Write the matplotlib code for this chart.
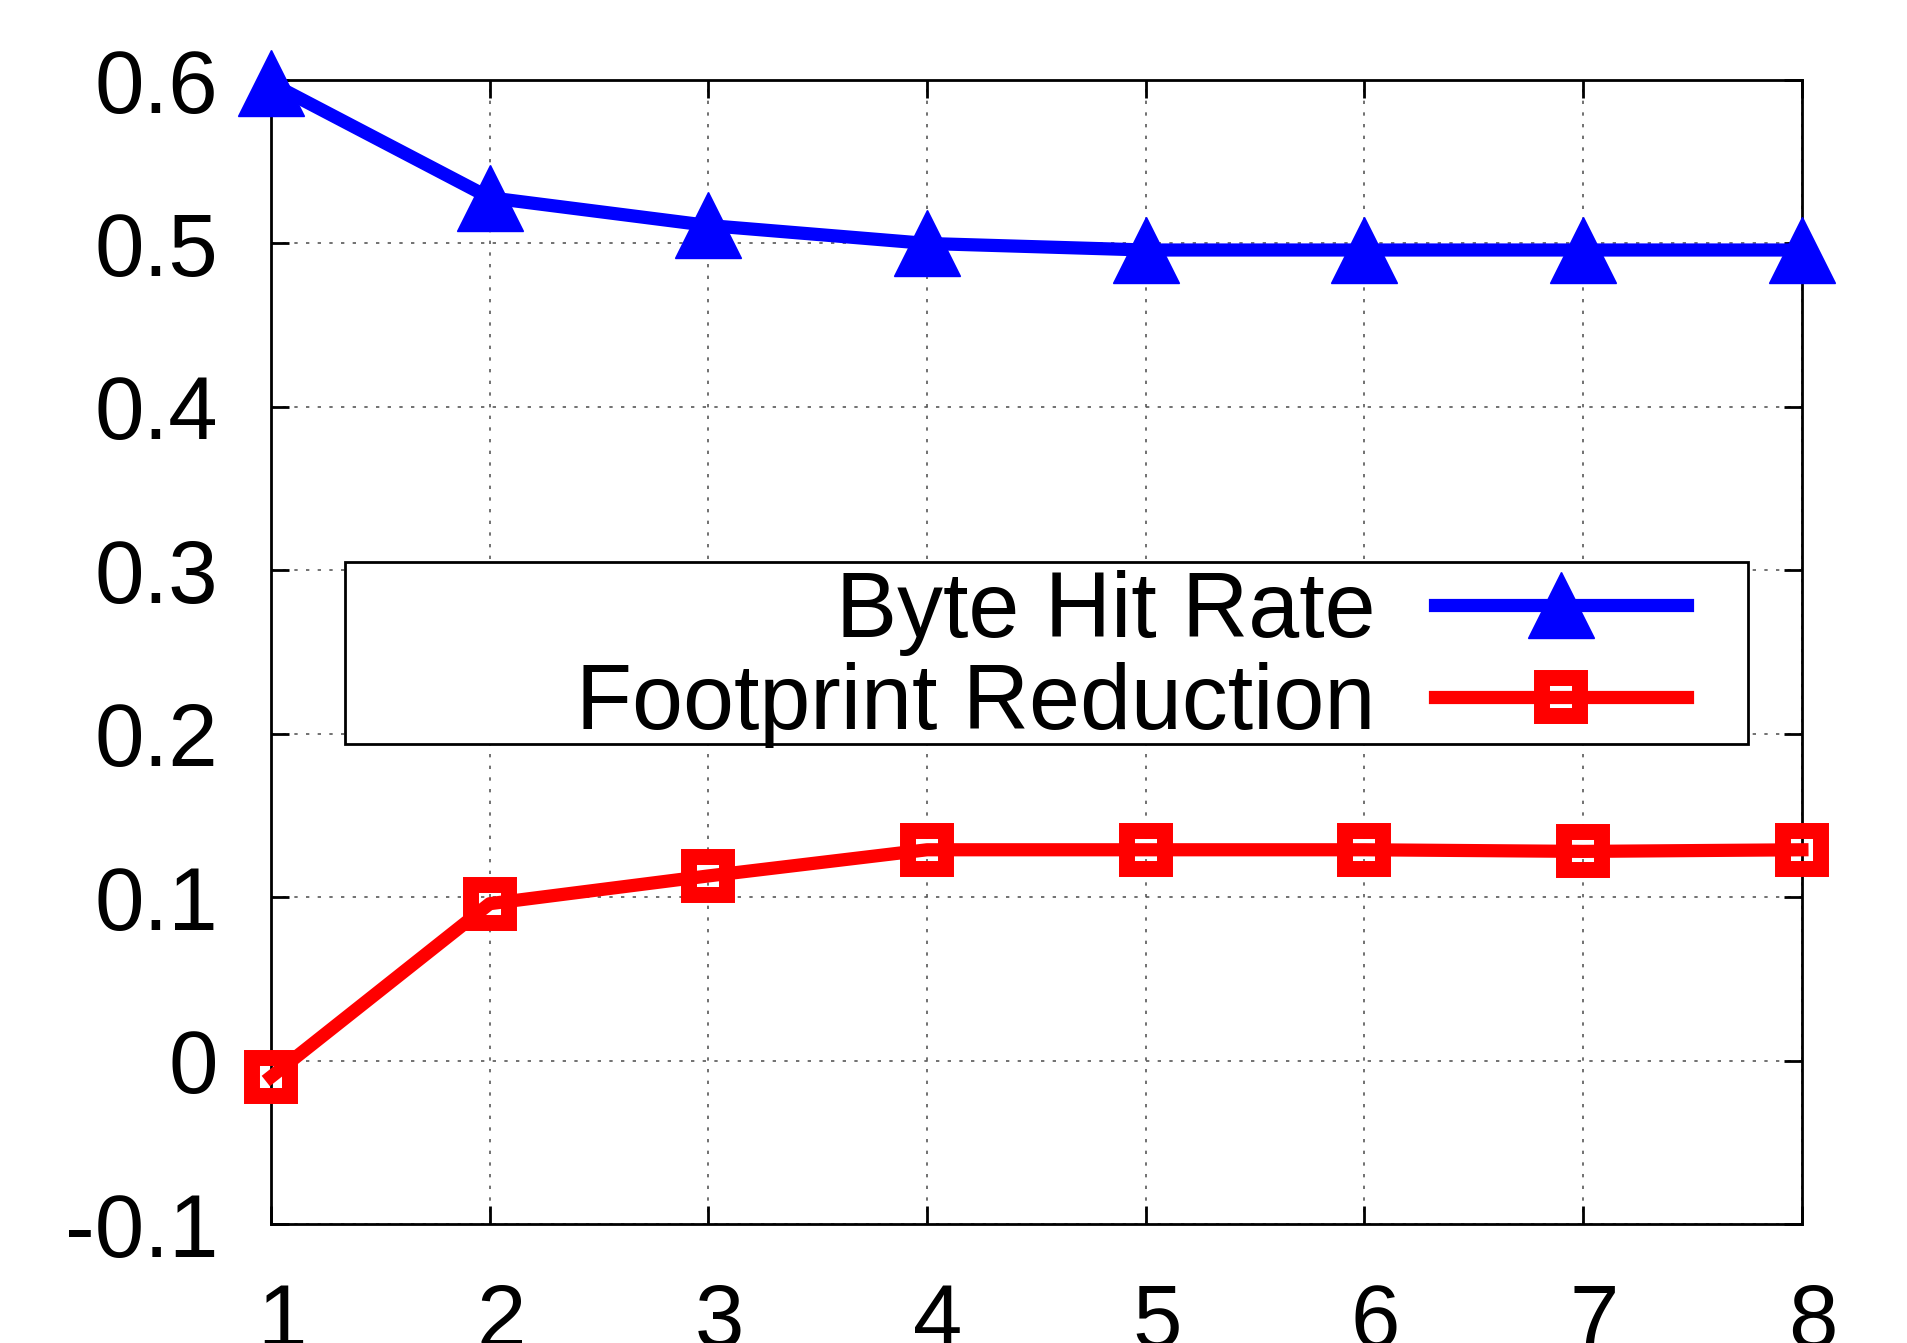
import numpy as np
import matplotlib
matplotlib.use("Agg")
import matplotlib.pyplot as plt
import matplotlib.transforms as mtransforms
from matplotlib.patches import Rectangle

plt.rcParams['font.family'] = ['Liberation Sans', 'DejaVu Sans']

# data
x = [1, 2, 3, 4, 5, 6, 7, 8]
byte_hit_rate = [0.598, 0.528, 0.511, 0.500, 0.496, 0.496, 0.496, 0.496]
footprint_reduction = [-0.010, 0.096, 0.113, 0.129, 0.129, 0.129, 0.128, 0.129]
yticks = [-0.1, 0, 0.1, 0.2, 0.3, 0.4, 0.5, 0.6]
ytick_labels = ["-0.1", "0", "0.1", "0.2", "0.3", "0.4", "0.5", "0.6"]

fig = plt.figure(figsize=(19.08, 13.43), dpi=100)
ax = fig.add_axes([0.142, 0.0886, 0.8024, 0.8518])

ax.plot(x, byte_hit_rate, color='#0000ff', lw=9.5, marker='^', ms=48,
        label='Byte Hit Rate', clip_on=False, zorder=4)
ax.plot(x, footprint_reduction, color='#ff0000', lw=9.5, marker='s', ms=27,
        mfc='none', mec='#ff0000', mew=11.5, label='Footprint Reduction',
        clip_on=False, zorder=4)

ax.set_xlim(1, 8)
ax.set_ylim(-0.1, 0.6)
ax.set_xticks(x)
ax.set_yticks(yticks)
ax.set_yticklabels(ytick_labels)

ax.grid(True, color='0.35', lw=1.2, linestyle=(0, (2, 5)))
ax.set_axisbelow(True)
for s in ax.spines.values():
    s.set_linewidth(2)
ax.tick_params(direction='in', length=13, width=2, top=True, right=True,
               labelsize=64, colors='black')
ax.tick_params(axis='y', pad=38)
ax.tick_params(axis='x', pad=42)
# x labels sit slightly right of their ticks
offset = mtransforms.ScaledTranslation(8 / 72, 0, fig.dpi_scale_trans)
for lab in ax.get_xticklabels():
    lab.set_transform(lab.get_transform() + offset)

# legend box
box = Rectangle((0.0485, 0.420), 0.9165, 0.159, transform=ax.transAxes,
                facecolor='white', edgecolor='black', lw=2, zorder=3)
ax.add_patch(box)
leg = ax.legend(loc='center right', bbox_to_anchor=(0.925, 0.494),
                frameon=False, markerfirst=False, fontsize=66, borderpad=0,
                borderaxespad=0, handlelength=2.75, handletextpad=0.65,
                labelspacing=0.06, numpoints=1)
leg.set_zorder(5)

fig.savefig('out.png', dpi=100)
